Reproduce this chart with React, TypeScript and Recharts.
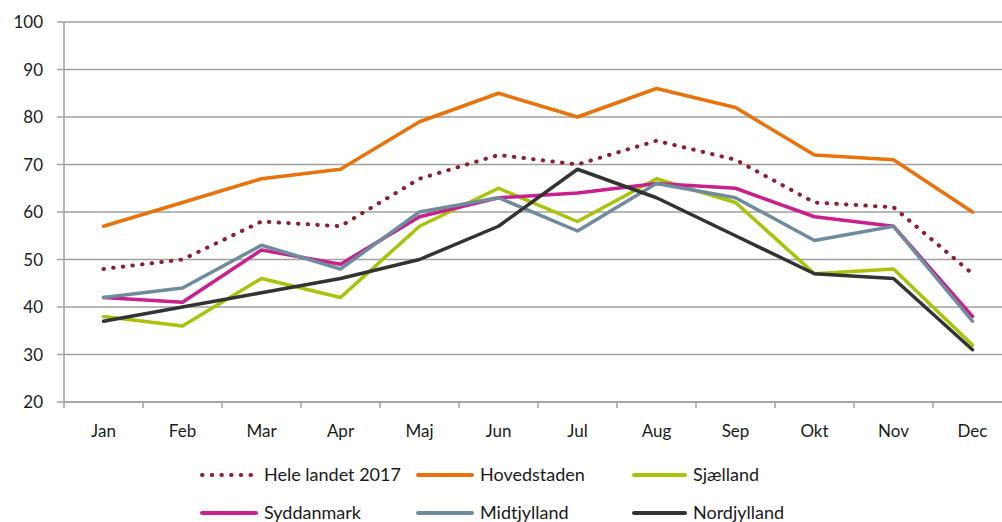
import { CartesianGrid, Line, LineChart, XAxis, YAxis } from 'recharts';

const months = ['Jan', 'Feb', 'Mar', 'Apr', 'Maj', 'Jun', 'Jul', 'Aug', 'Sep', 'Okt', 'Nov', 'Dec'];

const heleLandet = [48, 50, 58, 57, 67, 72, 70, 75, 71, 62, 61, 47];
const hovedstaden = [57, 62, 67, 69, 79, 85, 80, 86, 82, 72, 71, 60];
const sjaelland = [38, 36, 46, 42, 57, 65, 58, 67, 62, 47, 48, 32];
const syddanmark = [42, 41, 52, 49, 59, 63, 64, 66, 65, 59, 57, 38];
const midtjylland = [42, 44, 53, 48, 60, 63, 56, 66, 63, 54, 57, 37];
const nordjylland = [37, 40, 43, 46, 50, 57, 69, 63, 55, 47, 46, 31];

const yTicks = [20, 30, 40, 50, 60, 70, 80, 90, 100];

const data = months.map((m, i) => ({
  month: m,
  hele: heleLandet[i],
  hoved: hovedstaden[i],
  sjael: sjaelland[i],
  sydd: syddanmark[i],
  midt: midtjylland[i],
  nord: nordjylland[i],
}));

const FONT = 'Lato, "Open Sans", sans-serif';
const AXIS_GRAY = '#A0A0A0';

// chart is a bit wider than the window, the right edge of the plot is cut off like in the source
const CHART_W = 1030;
const Y_AXIS_W = 64;
const MARGIN_R = 18;
const BAND = (CHART_W - Y_AXIS_W - MARGIN_R) / months.length;

const series = [
  { key: 'hele', name: 'Hele landet 2017', color: '#8B1F33', dotted: true },
  { key: 'hoved', name: 'Hovedstaden', color: '#E8730C', dotted: false },
  { key: 'sjael', name: 'Sjælland', color: '#A9C20A', dotted: false },
  { key: 'sydd', name: 'Syddanmark', color: '#C8208C', dotted: false },
  { key: 'midt', name: 'Midtjylland', color: '#6E8C9C', dotted: false },
  { key: 'nord', name: 'Nordjylland', color: '#333333', dotted: false },
];

function MonthTick({ x, y, payload }: any) {
  const bx = x - BAND / 2;
  return (
    <g>
      <line x1={bx} x2={bx} y1={y} y2={y + 6} stroke={AXIS_GRAY} strokeWidth={1.5} />
      <text x={x} y={y + 35} textAnchor="middle" fill="#1a1a1a" fontSize={17} fontFamily={FONT}>
        {payload.value}
      </text>
    </g>
  );
}

// legend columns: sample start x, text start x
const legendCols = [
  { lx: 200, tx: 264 },
  { lx: 416, tx: 480 },
  { lx: 632, tx: 693 },
];
const legendRows = [475, 513];

function LegendBlock() {
  return (
    <svg width={1002} height={522} style={{ position: 'absolute', left: 0, top: 0, pointerEvents: 'none' }}>
      {series.map((s, i) => {
        const col = legendCols[i % 3];
        const cy = legendRows[Math.floor(i / 3)];
        return (
          <g key={s.key}>
            <line
              x1={col.lx + 2}
              x2={col.tx - 8}
              y1={cy}
              y2={cy}
              stroke={s.color}
              strokeWidth={4}
              strokeLinecap="round"
              strokeDasharray={s.dotted ? '0.5 9.2' : undefined}
            />
            <text x={col.tx} y={cy + 6} fontSize={18} fontFamily={FONT} fill="#1a1a1a">
              {s.name}
            </text>
          </g>
        );
      })}
    </svg>
  );
}

export default function App() {
  return (
    <div style={{ position: 'relative', width: 1002, height: 522, overflow: 'hidden', background: '#fff' }}>
      <style>{'body{margin:0}'}</style>
      <LineChart
        width={CHART_W}
        height={522}
        data={data}
        margin={{ top: 22, right: MARGIN_R, left: 0, bottom: 80 }}
      >
        <CartesianGrid vertical={false} stroke={AXIS_GRAY} strokeWidth={1.5} />
        <XAxis
          dataKey="month"
          height={40}
          interval={0}
          padding={{ left: BAND / 2, right: BAND / 2 }}
          axisLine={{ stroke: AXIS_GRAY, strokeWidth: 1.5 }}
          tickLine={false}
          tickSize={0}
          tickMargin={0}
          tick={<MonthTick />}
        />
        <YAxis
          width={Y_AXIS_W}
          domain={[20, 100]}
          ticks={yTicks}
          interval={0}
          axisLine={{ stroke: AXIS_GRAY, strokeWidth: 1.5 }}
          tickLine={{ stroke: AXIS_GRAY, strokeWidth: 1.5 }}
          tickSize={7}
          tickMargin={14}
          tick={{ fill: '#1a1a1a', fontSize: 17, fontFamily: FONT }}
        />
        {series.map((s) => (
          <Line
            key={s.key}
            dataKey={s.key}
            name={s.name}
            type="linear"
            stroke={s.color}
            strokeWidth={s.dotted ? 4 : 3.5}
            strokeDasharray={s.dotted ? '0.5 9.2' : undefined}
            strokeLinecap="round"
            strokeLinejoin="round"
            dot={false}
            activeDot={false}
            isAnimationActive={false}
          />
        ))}
      </LineChart>
      <LegendBlock />
    </div>
  );
}
